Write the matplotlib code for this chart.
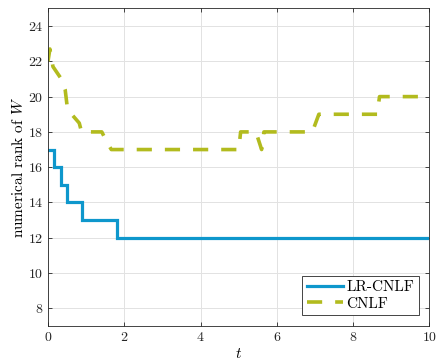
import matplotlib
matplotlib.use("Agg")
import matplotlib.pyplot as plt

# LR-CNLF (step function)
lr_t = [0.0, 0.165, 0.165, 0.33, 0.33, 0.51, 0.51, 0.88, 0.88, 1.82, 1.82, 10.0]
lr_r = [17, 17, 16, 16, 15, 15, 14, 14, 13, 13, 12, 12]

# CNLF
cn_t = [0.0, 0.05, 0.13, 0.35, 0.45, 0.5, 0.62, 0.82, 0.88, 1.41, 1.55, 1.66,
        5.0, 5.05, 5.45, 5.6, 5.66, 6.93, 7.1, 8.63, 8.69, 10.0]
cn_r = [22.0, 22.7, 21.7, 21.0, 20.4, 19.5, 19.0, 18.5, 18.0, 18.0, 17.4, 17.0,
        17.0, 18.0, 18.0, 17.0, 18.0, 18.0, 19.0, 19.0, 20.0, 20.0]

xticks = [0, 2, 4, 6, 8, 10]
yticks = [8, 10, 12, 14, 16, 18, 20, 22, 24]

plt.rcParams['font.family'] = 'serif'
plt.rcParams['font.serif'] = ['cmr10', 'DejaVu Serif']
plt.rcParams['mathtext.fontset'] = 'cm'
plt.rcParams['axes.formatter.use_mathtext'] = True

fig = plt.figure(figsize=(4.37, 3.63), dpi=100)
ax = fig.add_axes([0.1098, 0.1019, 0.8730, 0.8750])

blue = '#0E97CC'
green = '#B2BB1E'
ax.plot(lr_t, lr_r, color=blue, lw=2.3, label='LR-CNLF', solid_joinstyle='miter')
ax.plot(cn_t, cn_r, color=green, lw=2.6, dashes=(4.2, 3.6), label='CNLF')

ax.set_xlim(0, 10)
ax.set_ylim(7, 25)
ax.set_xticks(xticks)
ax.set_yticks(yticks)
ax.grid(True, color='#e2e2e2', lw=0.7)
ax.set_axisbelow(True)
ax.tick_params(direction='in', top=True, right=True, labelsize=10, colors='#262626',
               length=3, width=0.6)
for s in ax.spines.values():
    s.set_color('#262626')
    s.set_linewidth(0.6)
ax.set_xlabel('$t$', fontsize=11, labelpad=2)
ax.set_ylabel('numerical rank of $W$', fontsize=11, labelpad=1)

leg = ax.legend(loc='lower right', fontsize=11, frameon=True, fancybox=False,
                edgecolor='#262626', framealpha=1, handlelength=2.4,
                handletextpad=0.2, borderpad=0.3, labelspacing=0.2,
                borderaxespad=0.7)
leg.get_frame().set_linewidth(0.6)

fig.savefig('out.png', dpi=100)
